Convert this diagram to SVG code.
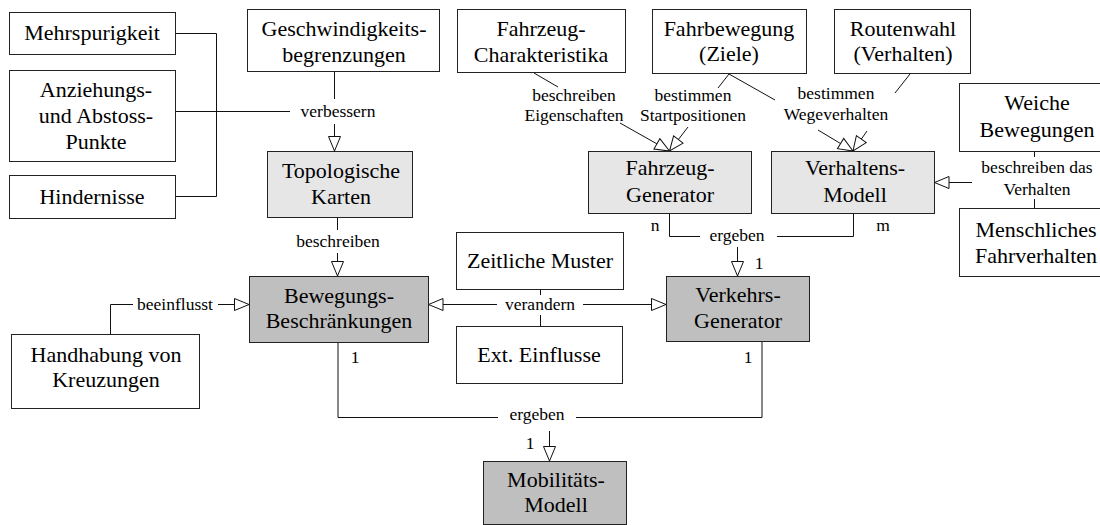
<svg xmlns="http://www.w3.org/2000/svg" width="1100" height="525" viewBox="0 0 1100 525">
<style>
  .box{fill:#fff;stroke:#222;stroke-width:1}
  .l1{fill:#e6e6e6}
  .l2{fill:#bfbfbf}
  .t{font-family:"Liberation Serif","Times New Roman",serif;font-size:22px;fill:#000;text-anchor:middle}
  .lb{font-family:"Liberation Serif","Times New Roman",serif;font-size:17.5px;fill:#000;text-anchor:middle}
  .c{fill:none;stroke:#111;stroke-width:1}
</style>
<defs>
  <marker id="tri" markerUnits="userSpaceOnUse" markerWidth="18" markerHeight="14" refX="15.5" refY="7" orient="auto" viewBox="0 0 18 14">
    <path d="M1,1 L15.5,7 L1,13 Z" fill="#fff" stroke="#111" stroke-width="1"/>
  </marker>
</defs>

<g id="connectors">
  <!-- bracket to verbessern -->
  <path class="c" d="M176,33.5 H216.5 V196.5 H176"/>
  <path class="c" d="M176,111.5 H290"/>
  <path class="c" d="M334.5,72 V99"/>
  <path class="c" d="M334.5,124 V151" marker-end="url(#tri)"/>
  <text class="lb" x="338" y="117">verbessern</text>
  <!-- Topologische -> Bewegungs -->
  <path class="c" d="M337.5,218 V230"/>
  <path class="c" d="M337.5,253 V276" marker-end="url(#tri)"/>
  <text class="lb" x="338" y="247">beschreiben</text>
  <!-- beeinflusst -->
  <path class="c" d="M110.5,334 V304.5 H133"/>
  <path class="c" d="M218,304.5 H249" marker-end="url(#tri)"/>
  <text class="lb" x="175" y="310">beeinflusst</text>
  <!-- verandern -->
  <path class="c" d="M497,304.5 H428.5" marker-end="url(#tri)"/>
  <path class="c" d="M583,304.5 H666" marker-end="url(#tri)"/>
  <path class="c" d="M540.5,290 V295"/>
  <path class="c" d="M540.5,315 V326"/>
  <text class="lb" x="540" y="310">verandern</text>
  <!-- Fahrzeug-Charakteristika -> FG -->
  <path class="c" d="M534,73 L558,87"/>
  <path class="c" d="M620,123 L669.5,151" marker-end="url(#tri)"/>
  <text class="lb" x="574" y="101">beschreiben</text>
  <text class="lb" x="574" y="121">Eigenschaften</text>
  <!-- Fahrbewegung -> FG -->
  <path class="c" d="M729,74 L718,88"/>
  <path class="c" d="M688,127 L669.5,151" marker-end="url(#tri)"/>
  <text class="lb" x="693" y="101">bestimmen</text>
  <text class="lb" x="693" y="121">Startpositionen</text>
  <!-- Fahrbewegung -> VM -->
  <path class="c" d="M729,74 L775,100"/>
  <path class="c" d="M818,130 L853,151" marker-end="url(#tri)"/>
  <!-- Routenwahl -> VM -->
  <path class="c" d="M910,74 L895,93"/>
  <path class="c" d="M867,131 L853,151" marker-end="url(#tri)"/>
  <text class="lb" x="836" y="99">bestimmen</text>
  <text class="lb" x="836" y="120">Wegeverhalten</text>
  <!-- Weiche / Menschliches -> VM -->
  <path class="c" d="M1034.5,152 V157"/>
  <path class="c" d="M1034.5,199 V208"/>
  <path class="c" d="M972,182.5 H934.5" marker-end="url(#tri)"/>
  <text class="lb" x="1037" y="173">beschreiben das</text>
  <text class="lb" x="1037" y="195">Verhalten</text>
  <!-- ergeben -> Verkehrs -->
  <path class="c" d="M669.5,214 V236.5 H700"/>
  <path class="c" d="M777,236.5 H853.5 V214"/>
  <path class="c" d="M737.5,247 V276" marker-end="url(#tri)"/>
  <text class="lb" x="737" y="241">ergeben</text>
  <text class="lb" x="655" y="231">n</text>
  <text class="lb" x="883" y="231">m</text>
  <text class="lb" x="759" y="269">1</text>
  <!-- ergeben -> Mobilitaets -->
  <path class="c" d="M338,343 V417.5 H498"/>
  <path class="c" d="M576,417.5 H762 V342"/>
  <path class="c" d="M549.5,431 V461" marker-end="url(#tri)"/>
  <text class="lb" x="537" y="420">ergeben</text>
  <text class="lb" x="355" y="363">1</text>
  <text class="lb" x="748" y="363">1</text>
  <text class="lb" x="530" y="449">1</text>
</g>

<g id="n-mehrspurigkeit"><rect class="box" x="9.5" y="12.5" width="166" height="42"/><text class="t" x="92" y="40">Mehrspurigkeit</text></g>
<g id="n-anziehung"><rect class="box" x="9.5" y="70.5" width="166" height="91"/><text class="t" x="96" y="97">Anziehungs-</text><text class="t" x="96" y="123">und Abstoss-</text><text class="t" x="96" y="149">Punkte</text></g>
<g id="n-hindernisse"><rect class="box" x="9.5" y="175.5" width="166" height="43"/><text class="t" x="92" y="204">Hindernisse</text></g>
<g id="n-geschw"><rect class="box" x="247.5" y="9.5" width="192" height="62"/><text class="t" x="344" y="36">Geschwindigkeits-</text><text class="t" x="344" y="62">begrenzungen</text></g>
<g id="n-topo"><rect class="box l1" x="267.5" y="151.5" width="145" height="66"/><text class="t" x="341" y="178">Topologische</text><text class="t" x="341" y="204">Karten</text></g>
<g id="n-charakt"><rect class="box" x="457.5" y="9.5" width="168" height="63"/><text class="t" x="541" y="36">Fahrzeug-</text><text class="t" x="541" y="62">Charakteristika</text></g>
<g id="n-fahrbew"><rect class="box" x="652.5" y="9.5" width="154" height="64"/><text class="t" x="729" y="36">Fahrbewegung</text><text class="t" x="729" y="61">(Ziele)</text></g>
<g id="n-routen"><rect class="box" x="834.5" y="9.5" width="136" height="64"/><text class="t" x="903" y="36">Routenwahl</text><text class="t" x="903" y="61">(Verhalten)</text></g>
<g id="n-weiche"><rect class="box" x="959.5" y="83.5" width="155" height="68"/><text class="t" x="1037" y="110">Weiche</text><text class="t" x="1037" y="137">Bewegungen</text></g>
<g id="n-mensch"><rect class="box" x="959.5" y="208.5" width="155" height="68"/><text class="t" x="1036" y="237">Menschliches</text><text class="t" x="1036" y="263">Fahrverhalten</text></g>
<g id="n-fzgen"><rect class="box l1" x="588.5" y="151.5" width="163" height="62"/><text class="t" x="670" y="175">Fahrzeug-</text><text class="t" x="670" y="202">Generator</text></g>
<g id="n-verhalten"><rect class="box l1" x="771.5" y="151.5" width="163" height="62"/><text class="t" x="855" y="175">Verhaltens-</text><text class="t" x="855" y="202">Modell</text></g>
<g id="n-beweg"><rect class="box l2" x="249.5" y="276.5" width="179" height="66"/><text class="t" x="339" y="303">Bewegungs-</text><text class="t" x="339" y="328">Beschränkungen</text></g>
<g id="n-zeit"><rect class="box" x="456.5" y="232.5" width="167" height="57"/><text class="t" x="540" y="268">Zeitliche Muster</text></g>
<g id="n-ext"><rect class="box" x="456.5" y="326.5" width="166" height="57"/><text class="t" x="539" y="362">Ext. Einflusse</text></g>
<g id="n-verkehr"><rect class="box l2" x="666.5" y="276.5" width="143" height="65"/><text class="t" x="738" y="302">Verkehrs-</text><text class="t" x="738" y="328">Generator</text></g>
<g id="n-kreuz"><rect class="box" x="11.5" y="334.5" width="188" height="74"/><text class="t" x="106" y="362">Handhabung von</text><text class="t" x="106" y="387">Kreuzungen</text></g>
<g id="n-mobil"><rect class="box l2" x="483.5" y="461.5" width="143" height="63"/><text class="t" x="556" y="487">Mobilitäts-</text><text class="t" x="556" y="512">Modell</text></g>
</svg>
